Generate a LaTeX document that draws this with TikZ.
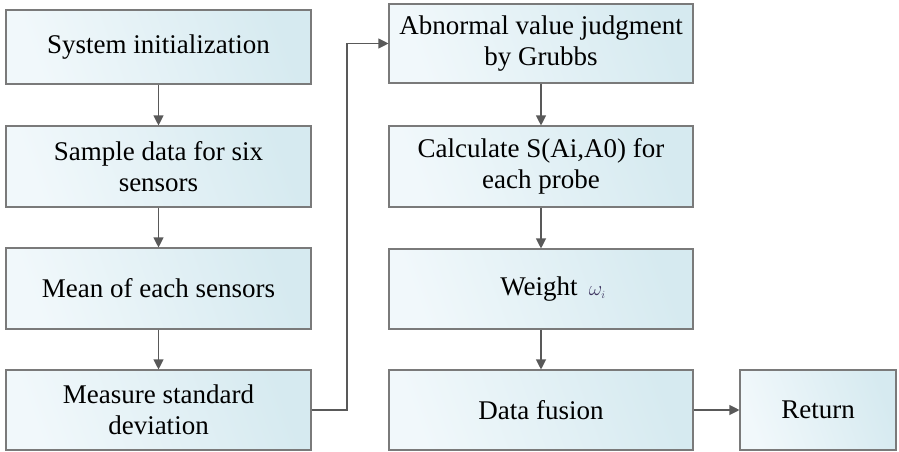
\documentclass[tikz,border=0pt]{standalone}
\usepackage{fontspec}
\setmainfont{Liberation Serif}
\usetikzlibrary{arrows.meta}
\definecolor{boxlight}{HTML}{F1F8FB}
\definecolor{boxdark}{HTML}{D6EAF0}
\definecolor{boxedge}{HTML}{7A7A7A}
\definecolor{linkgray}{HTML}{595959}
\definecolor{symbolink}{HTML}{3E3560}
\begin{document}
\begin{tikzpicture}[x=1pt,y=-1pt,
  flowbox/.style={draw=boxedge,line width=1.1pt,left color=boxlight,right color=boxdark,
    shading angle=110,inner sep=0pt,align=center,
    font=\fontsize{27}{30.5}\selectfont,text=black},
  link/.style={draw=linkgray,line width=1.1pt,-{Triangle[length=10pt,width=10pt]}}]
\useasboundingbox (0,0) rectangle (899,452);
% left column
\node[flowbox,minimum width=305pt,minimum height=74pt] (init) at (158.5,47) {System initialization};
\node[flowbox,minimum width=305pt,minimum height=81pt] (sample) at (158.5,166.5) {Sample data for six\\sensors};
\node[flowbox,minimum width=305pt,minimum height=81pt] (mean) at (158.5,288.5) {Mean of each sensors};
\node[flowbox,minimum width=305pt,minimum height=80pt] (std) at (158.5,410) {Measure standard\\deviation};
% right column
\node[flowbox,minimum width=304pt,minimum height=79pt] (grubbs) at (541,43.5) {Abnormal value judgment\\by Grubbs};
\node[flowbox,minimum width=304pt,minimum height=81pt] (calc) at (541,166.5) {Calculate S(Ai,A0) for\\each probe};
\node[flowbox,minimum width=304pt,minimum height=80pt] (weight) at (541,289)
  {\hspace*{24pt}\raisebox{-2pt}{Weight \,\smash{\color{symbolink}\fontsize{22}{22}\selectfont$\omega_{\scriptscriptstyle i}$}}};
\node[flowbox,minimum width=304pt,minimum height=80pt] (fusion) at (541,410) {Data fusion};
\node[flowbox,minimum width=156pt,minimum height=80pt] (ret) at (818,410) {Return};
% connectors
\draw[link] (init) -- (sample);
\draw[link] (sample) -- (mean);
\draw[link] (mean) -- (std);
\coordinate (jog) at (347,0);
\draw[link] (std.east) -- (std.east -| jog) -- (grubbs.west -| jog) -- (grubbs.west);
\draw[link] (grubbs) -- (calc);
\draw[link] (calc) -- (weight);
\draw[link] (weight) -- (fusion);
\draw[link] (fusion) -- (ret);
\end{tikzpicture}
\end{document}
